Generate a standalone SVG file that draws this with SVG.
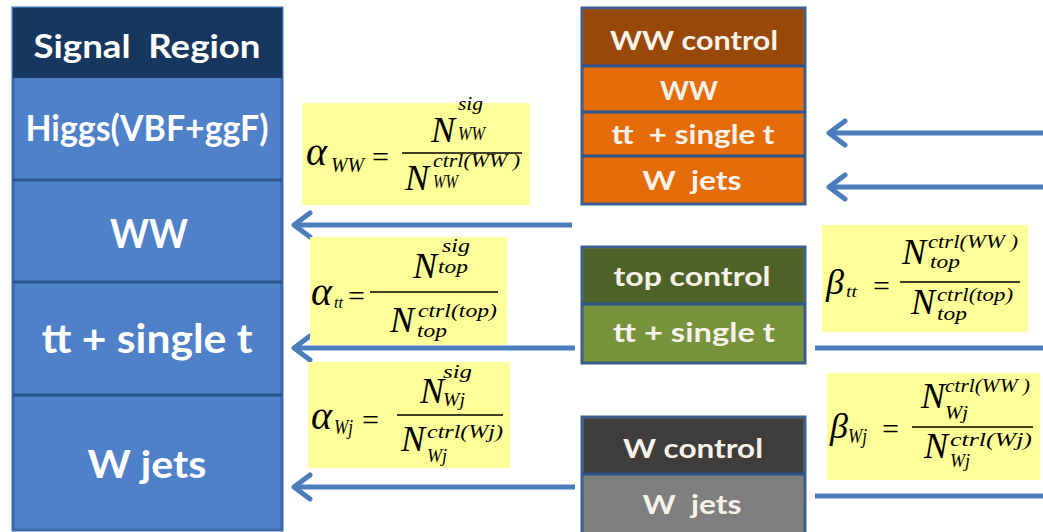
<svg xmlns="http://www.w3.org/2000/svg" width="1043" height="532" viewBox="0 0 1043 532">
<style>
text{white-space:pre}
.lbl{font-family:Lato,"Open Sans",sans-serif;font-weight:bold;fill:#ffffff;text-anchor:middle}
.rl{font-family:Lato,"Open Sans",sans-serif;font-weight:bold;fill:#f6f2ea;text-anchor:middle;font-size:26px}
.sep{stroke:#2a558e;stroke-width:3}
.m{font-family:"Liberation Serif","Times New Roman",serif;font-style:italic;fill:#000}
.big{font-size:36px}
.gr{font-size:40px}
.s{font-size:18px}
.eq{font-family:"Liberation Serif",serif;font-size:30px;fill:#000}
.fl{stroke:#000;stroke-width:1.5}
.ybox{fill:#ffff99}
.conn{stroke:#4a7ebb;stroke-width:5;fill:none}
</style>
<defs>
<marker id="ah" markerUnits="userSpaceOnUse" markerWidth="28" markerHeight="32" refX="20" refY="16" orient="auto-start-reverse">
<path d="M4,4 L20,16 L4,28" fill="none" stroke="#4a7ebb" stroke-width="5" stroke-linecap="round" stroke-linejoin="round"/>
</marker>
</defs>
<rect width="1043" height="532" fill="#ffffff"/>

<g id="signal-region">
<rect x="13" y="8" width="269" height="522" fill="#4f81c9" stroke="#3a6aa8" stroke-width="3"/>
<rect x="13" y="8" width="269" height="70" fill="#17375e"/>
<line class="sep" x1="13" y1="180" x2="282" y2="180"/>
<line class="sep" x1="13" y1="282" x2="282" y2="282"/>
<line class="sep" x1="13" y1="395" x2="282" y2="395"/>
<text class="lbl" x="147" y="58" font-size="33" textLength="227" lengthAdjust="spacingAndGlyphs">Signal  Region</text>
<text class="lbl" x="147" y="141" font-size="37" textLength="243" lengthAdjust="spacingAndGlyphs">Higgs(VBF+ggF)</text>
<text class="lbl" x="149" y="248" font-size="40" textLength="78" lengthAdjust="spacingAndGlyphs">WW</text>
<text class="lbl" x="147" y="353" font-size="40" textLength="211" lengthAdjust="spacingAndGlyphs">tt + single t</text>
<text class="lbl" x="147" y="478" font-size="38" textLength="119" lengthAdjust="spacingAndGlyphs">W jets</text>
</g>

<g id="ww-control">
<rect x="582" y="8" width="223" height="196" fill="#e46c0a" stroke="#3b5e8c" stroke-width="3"/>
<rect x="583.5" y="9.5" width="220" height="56" fill="#984807"/>
<line class="sep" x1="582" y1="66" x2="805" y2="66" stroke="#3b5e8c"/>
<line class="sep" x1="582" y1="112" x2="805" y2="112" stroke="#3b5e8c"/>
<line class="sep" x1="582" y1="156" x2="805" y2="156" stroke="#3b5e8c"/>
<text class="rl" x="694" y="50" textLength="168" lengthAdjust="spacingAndGlyphs">WW control</text>
<text class="rl" x="689" y="100" textLength="58" lengthAdjust="spacingAndGlyphs">WW</text>
<text class="rl" x="693" y="144" textLength="163" lengthAdjust="spacingAndGlyphs">tt  + single t</text>
<text class="rl" x="692" y="190" textLength="99" lengthAdjust="spacingAndGlyphs">W  jets</text>
</g>

<g id="top-control">
<rect x="582" y="247" width="223" height="116" fill="#77933c" stroke="#3b5e8c" stroke-width="3"/>
<rect x="583.5" y="248.5" width="220" height="55" fill="#4f6228"/>
<line class="sep" x1="582" y1="304" x2="805" y2="304" stroke="#3b5e8c"/>
<text class="rl" x="692" y="286" textLength="157" lengthAdjust="spacingAndGlyphs">top control</text>
<text class="rl" x="694" y="342" textLength="162" lengthAdjust="spacingAndGlyphs">tt + single t</text>
</g>

<g id="w-control">
<rect x="582" y="417" width="223" height="118" fill="#7f7f7f" stroke="#3b5e8c" stroke-width="3"/>
<rect x="583.5" y="418.5" width="220" height="55" fill="#3f3d3b"/>
<line class="sep" x1="582" y1="474" x2="805" y2="474" stroke="#3b5e8c"/>
<text class="rl" x="693" y="458" textLength="140" lengthAdjust="spacingAndGlyphs">W control</text>
<text class="rl" x="692" y="514" textLength="99" lengthAdjust="spacingAndGlyphs">W  jets</text>
</g>

<g id="connectors">
<line class="conn" x1="294" y1="225" x2="572" y2="225" marker-start="url(#ah)"/>
<line class="conn" x1="294" y1="348" x2="575" y2="348" marker-start="url(#ah)"/>
<line class="conn" x1="294" y1="487" x2="575" y2="487" marker-start="url(#ah)"/>
<line class="conn" x1="829" y1="133" x2="1043" y2="133" marker-start="url(#ah)"/>
<line class="conn" x1="829" y1="187" x2="1043" y2="187" marker-start="url(#ah)"/>
<line class="conn" x1="815" y1="348" x2="1043" y2="348"/>
<line class="conn" x1="815" y1="496" x2="1043" y2="496"/>
</g>

<g id="alpha-ww">
<rect class="ybox" x="302" y="103" width="228" height="102"/>
<text class="m gr" x="306" y="165">α</text>
<text class="m" font-size="20" x="331" y="172" textLength="33" lengthAdjust="spacingAndGlyphs">WW</text>
<text class="eq" x="372" y="167">=</text>
<line class="fl" x1="402" y1="153" x2="522" y2="153"/>
<text class="m big" x="431" y="142">N</text>
<text class="m s" x="458" y="110" textLength="25" lengthAdjust="spacingAndGlyphs">sig</text>
<text class="m s" x="458" y="140" textLength="27" lengthAdjust="spacingAndGlyphs">WW</text>
<text class="m big" x="405" y="190">N</text>
<text class="m s" x="433" y="167" textLength="87" lengthAdjust="spacingAndGlyphs">ctrl(WW )</text>
<text class="m s" x="433" y="188" textLength="25" lengthAdjust="spacingAndGlyphs">WW</text>
</g>

<g id="alpha-tt">
<rect class="ybox" x="310" y="237" width="197" height="108"/>
<text class="m gr" x="311" y="305">α</text>
<text class="m" font-size="16" x="334" y="308" textLength="9" lengthAdjust="spacingAndGlyphs">tt</text>
<text class="eq" x="348" y="306">=</text>
<line class="fl" x1="370" y1="292" x2="498" y2="292"/>
<text class="m big" x="413" y="278">N</text>
<text class="m s" x="442" y="252" textLength="28" lengthAdjust="spacingAndGlyphs">sig</text>
<text class="m s" x="438" y="273" textLength="30" lengthAdjust="spacingAndGlyphs">top</text>
<text class="m big" x="390" y="332">N</text>
<text class="m s" x="418" y="317" textLength="79" lengthAdjust="spacingAndGlyphs">ctrl(top)</text>
<text class="m s" x="417" y="337" textLength="30" lengthAdjust="spacingAndGlyphs">top</text>
</g>

<g id="alpha-wj">
<rect class="ybox" x="308" y="362" width="202" height="106"/>
<text class="m gr" x="311" y="429">α</text>
<text class="m" font-size="20" x="334" y="434" textLength="19" lengthAdjust="spacingAndGlyphs">Wj</text>
<text class="eq" x="362" y="430">=</text>
<line class="fl" x1="397" y1="415" x2="503" y2="415"/>
<text class="m big" x="420" y="403">N</text>
<text class="m s" x="443" y="378" textLength="29" lengthAdjust="spacingAndGlyphs">sig</text>
<text class="m s" x="443" y="406" textLength="22" lengthAdjust="spacingAndGlyphs">Wj</text>
<text class="m big" x="401" y="451">N</text>
<text class="m s" x="427" y="438" textLength="76" lengthAdjust="spacingAndGlyphs">ctrl(Wj)</text>
<text class="m s" x="427" y="462" textLength="20" lengthAdjust="spacingAndGlyphs">Wj</text>
</g>

<g id="beta-tt">
<rect class="ybox" x="822" y="225" width="206" height="107"/>
<text class="m big" x="826" y="294">β</text>
<text class="m" font-size="16" x="846" y="297" textLength="11" lengthAdjust="spacingAndGlyphs">tt</text>
<text class="eq" x="873" y="296">=</text>
<line class="fl" x1="900" y1="282" x2="1020" y2="282"/>
<text class="m big" x="902" y="264">N</text>
<text class="m s" x="928" y="248" textLength="90" lengthAdjust="spacingAndGlyphs">ctrl(WW )</text>
<text class="m s" x="930" y="268" textLength="30" lengthAdjust="spacingAndGlyphs">top</text>
<text class="m big" x="911" y="314">N</text>
<text class="m s" x="937" y="301" textLength="76" lengthAdjust="spacingAndGlyphs">ctrl(top)</text>
<text class="m s" x="937" y="320" textLength="30" lengthAdjust="spacingAndGlyphs">top</text>
</g>

<g id="beta-wj">
<rect class="ybox" x="827" y="373" width="213" height="107"/>
<text class="m big" x="830" y="438">β</text>
<text class="m" font-size="20" x="848" y="443" textLength="19" lengthAdjust="spacingAndGlyphs">Wj</text>
<text class="eq" x="882" y="439">=</text>
<line class="fl" x1="912" y1="427" x2="1033" y2="427"/>
<text class="m big" x="921" y="408">N</text>
<text class="m s" x="945" y="392" textLength="85" lengthAdjust="spacingAndGlyphs">ctrl(WW )</text>
<text class="m s" x="945" y="419" textLength="23" lengthAdjust="spacingAndGlyphs">Wj</text>
<text class="m big" x="924" y="458">N</text>
<text class="m s" x="950" y="446" textLength="82" lengthAdjust="spacingAndGlyphs">ctrl(Wj)</text>
<text class="m s" x="950" y="467" textLength="20" lengthAdjust="spacingAndGlyphs">Wj</text>
</g>
</svg>
